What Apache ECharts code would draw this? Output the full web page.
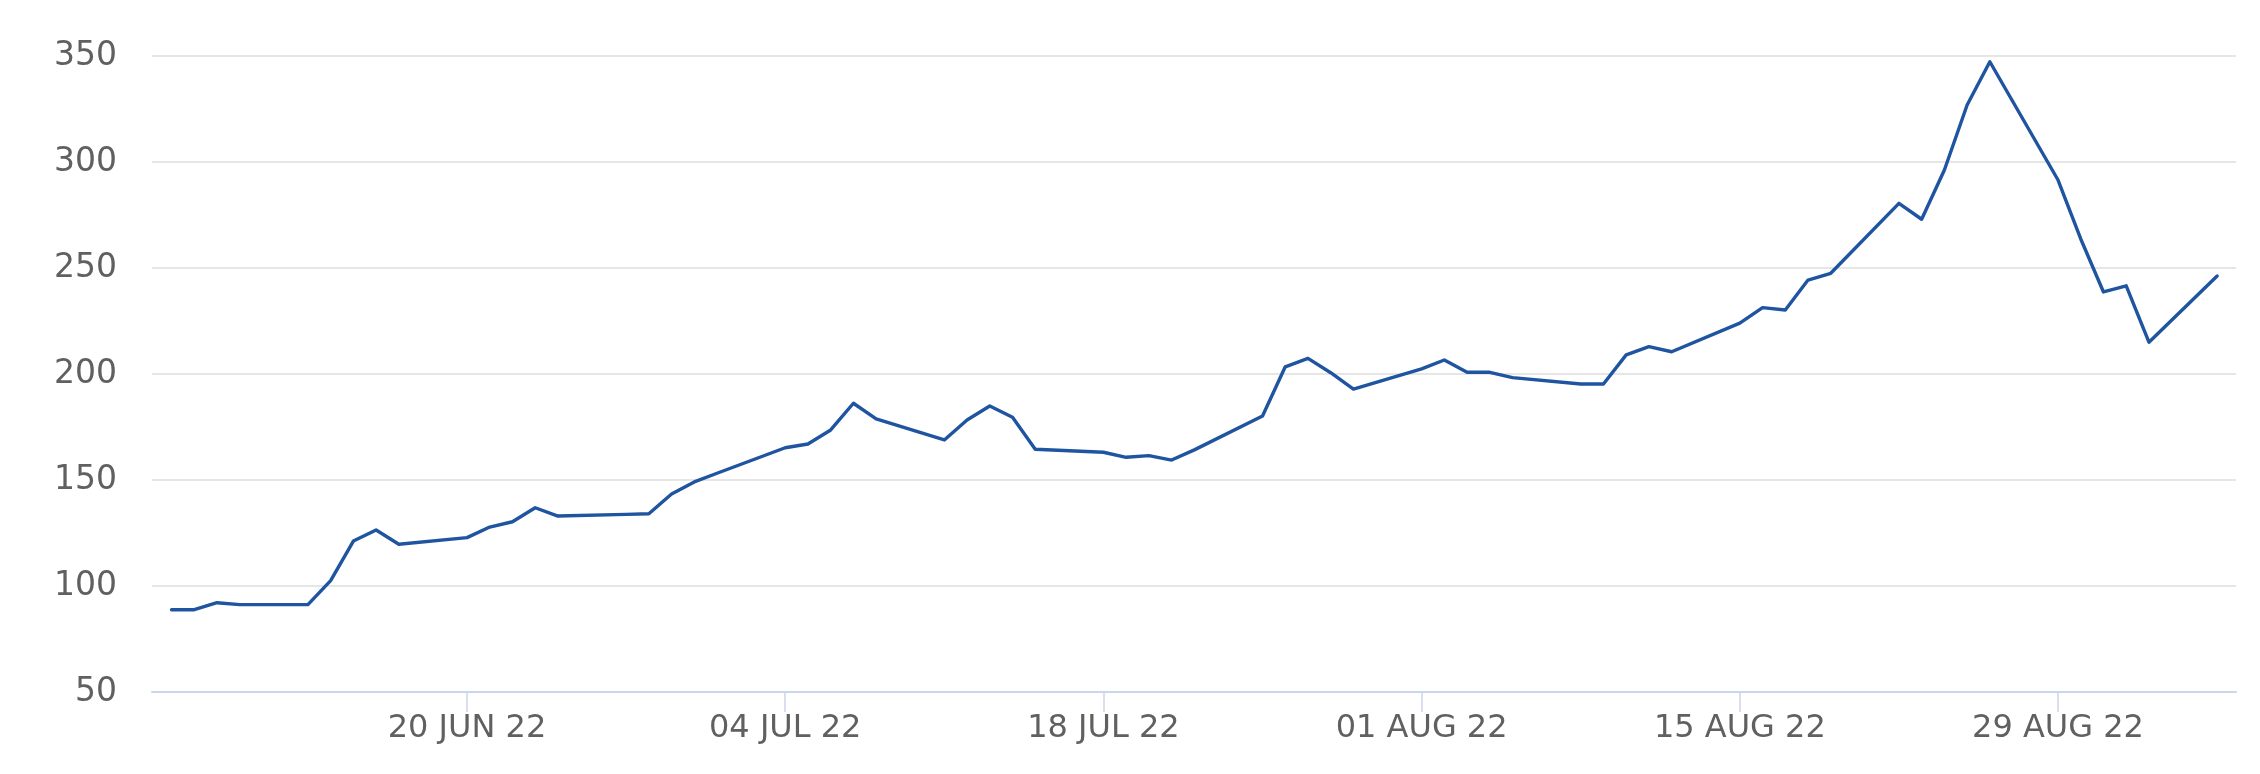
<!DOCTYPE html>
<html>
<head>
<meta charset="utf-8">
<script src="https://cdn.jsdelivr.net/npm/echarts@6/dist/echarts.min.js"></script>
<style>
  html, body { margin: 0; padding: 0; background: #ffffff; }
  #chart { width: 2260px; height: 774px; }
</style>
</head>
<body>
<div id="chart"></div>
<script>
const dates = [
  '2022-06-07','2022-06-08','2022-06-09','2022-06-10',
  '2022-06-13','2022-06-14','2022-06-15','2022-06-16','2022-06-17',
  '2022-06-20','2022-06-21','2022-06-22','2022-06-23','2022-06-24',
  '2022-06-27','2022-06-28','2022-06-29','2022-06-30','2022-07-01',
  '2022-07-04','2022-07-05','2022-07-06','2022-07-07','2022-07-08',
  '2022-07-11','2022-07-12','2022-07-13','2022-07-14','2022-07-15',
  '2022-07-18','2022-07-19','2022-07-20','2022-07-21','2022-07-22',
  '2022-07-25','2022-07-26','2022-07-27','2022-07-28','2022-07-29',
  '2022-08-01','2022-08-02','2022-08-03','2022-08-04','2022-08-05',
  '2022-08-08','2022-08-09','2022-08-10','2022-08-11','2022-08-12',
  '2022-08-15','2022-08-16','2022-08-17','2022-08-18','2022-08-19',
  '2022-08-22','2022-08-23','2022-08-24','2022-08-25','2022-08-26',
  '2022-08-29','2022-08-30','2022-08-31','2022-09-01','2022-09-02',
  '2022-09-05'
];
const values = [
  88.8, 88.8, 92.1, 91.2,
  91.2, 102.5, 121.2, 126.4, 119.7,
  122.8, 127.8, 130.3, 136.9, 133.0,
  133.8, 134.1, 143.4, 149.1, 153.2,
  165.2, 167.0, 173.6, 186.2, 178.8,
  168.9, 178.3, 184.9, 179.6, 164.5,
  163.1, 160.7, 161.5, 159.4, 164.2,
  180.2, 203.4, 207.4, 200.6, 192.9,
  202.4, 206.6, 200.8, 200.8, 198.3,
  195.3, 195.3, 209.0, 212.9, 210.5,
  224.0, 231.3, 230.2, 244.3, 247.5,
  280.5, 273.0, 296.2, 326.9, 347.3,
  291.5, 263.7, 238.7, 241.6, 215.0,
  246.2
];
const tickDates = ['2022-06-20','2022-07-04','2022-07-18','2022-08-01','2022-08-15','2022-08-29'];
const monthNames = ['JAN','FEB','MAR','APR','MAY','JUN','JUL','AUG','SEP','OCT','NOV','DEC'];

function toTs(s) {
  const p = s.split('-').map(Number);
  return Date.UTC(p[0], p[1] - 1, p[2]);
}
function fmt(ts) {
  const d = new Date(ts);
  const dd = String(d.getUTCDate()).padStart(2, '0');
  return dd + ' ' + monthNames[d.getUTCMonth()] + ' ' + String(d.getUTCFullYear()).slice(2);
}
const DAY = 86400000;
const seriesData = dates.map((d, i) => [toTs(d), values[i]]);
const tickTs = tickDates.map(toTs);
const xMin = toTs('2022-06-20') - 13.86 * DAY;
const xMax = toTs('2022-06-20') + 77.83 * DAY;

const chart = echarts.init(document.getElementById('chart'), null, { renderer: 'canvas' });
chart.setOption({
  animation: false,
  backgroundColor: '#ffffff',
  grid: { left: 152, right: 24, top: 56, bottom: 82, containLabel: false },
  xAxis: {
    type: 'value',
    min: xMin,
    max: xMax,
    axisLine: { show: true, lineStyle: { color: '#ccd6eb', width: 2 } },
    axisTick: { show: true, length: 20, customValues: tickTs, lineStyle: { color: '#ccd6eb', width: 1.5 } },
    axisLabel: {
      show: true,
      customValues: tickTs,
      formatter: (v) => fmt(v),
      color: '#606060',
      fontFamily: 'DejaVu Sans',
      fontSize: 32,
      margin: 21
    },
    splitLine: { show: false }
  },
  yAxis: {
    type: 'value',
    min: 50,
    max: 350,
    interval: 50,
    axisLine: { show: false },
    axisTick: { show: false },
    axisLabel: {
      color: '#606060',
      fontFamily: 'DejaVu Sans',
      fontSize: 33,
      margin: 35,
      padding: [0, 0, 8, 0]
    },
    splitLine: { show: true, lineStyle: { color: '#e6e6e6', width: 2 } }
  },
  series: [{
    type: 'line',
    data: seriesData,
    showSymbol: false,
    symbol: 'none',
    lineStyle: { color: '#1f54a0', width: 3.4, join: 'round', cap: 'round' },
    z: 3
  }]
});
</script>
</body>
</html>
